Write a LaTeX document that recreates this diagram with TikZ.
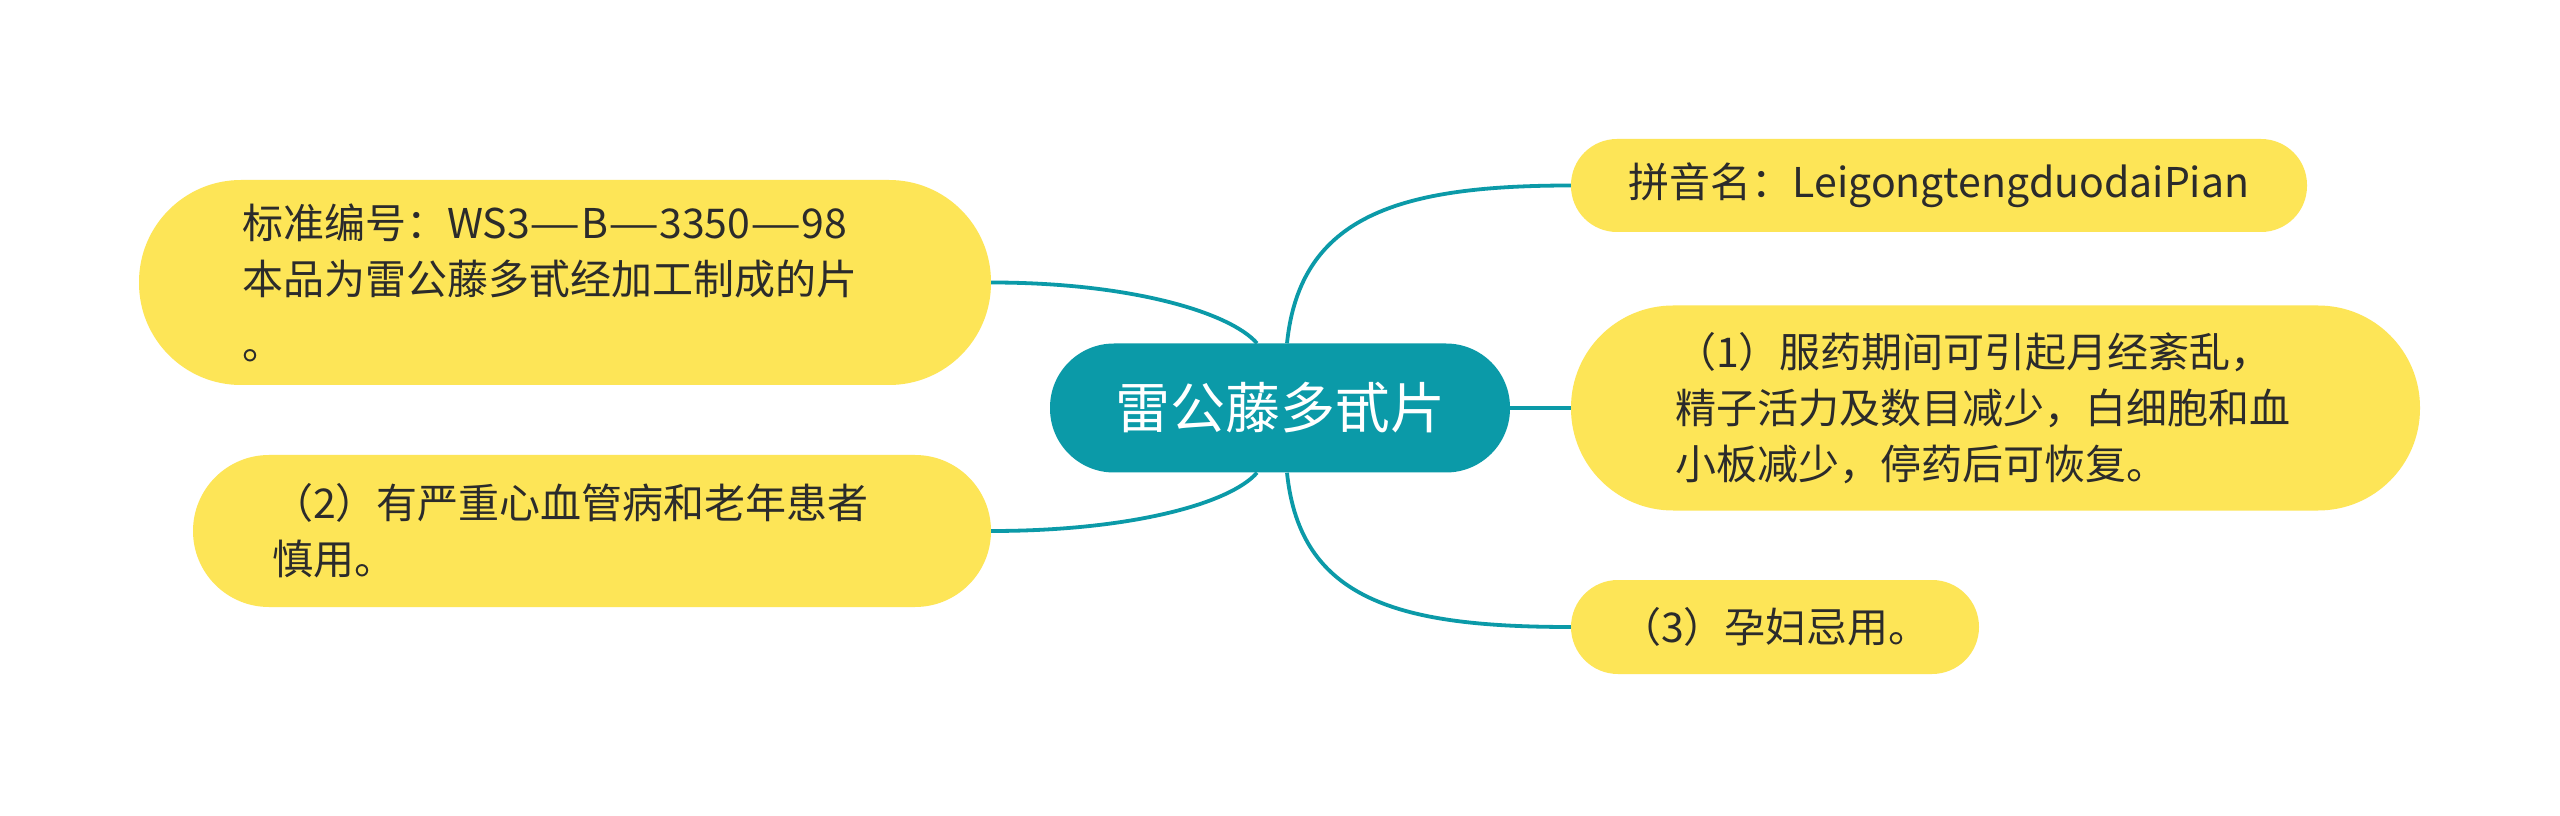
\documentclass[tikz,border=0pt]{standalone}
\usepackage{fontspec}
\setmainfont{Noto Sans CJK SC}
\usepackage{graphicx}
\newcommand{\longdash}{\scalebox{1.4}[1]{—}}
\usepackage{xcolor}
\usetikzlibrary{positioning}
\definecolor{topicteal}{HTML}{0B9AA8}
\definecolor{leafyellow}{HTML}{FDE557}
\definecolor{leafink}{HTML}{2B2B2B}

\begin{document}
\begin{tikzpicture}[x=1pt, y=1pt,
  topic/.style={fill=topicteal, text=white, rounded corners=64pt, minimum width=460pt, minimum height=129pt, inner sep=0pt, font=\fontsize{55}{60}\selectfont},
  leaf/.style={fill=leafyellow, text=leafink, align=left, inner sep=0pt, font=\fontsize{41}{56}\selectfont},
  link/.style={draw=topicteal, line width=3.8pt}
]
\useasboundingbox[fill=white] (0,0) rectangle (2560,815);

\node[topic] (c) at (1280,407) {雷公藤多甙片};

\node[leaf, minimum width=852pt, minimum height=205pt, rounded corners=102pt, text width=646pt] (tl) at (565,532.5)
  {标准编号：WS3\longdash B\longdash 3350\longdash 98\\本品为雷公藤多甙经加工制成的片\\[9pt]。};
\node[leaf, minimum width=798pt, minimum height=152pt, rounded corners=76pt, text width=640pt] (bl) at (592,284)
  {（2）有严重心血管病和老年患者\\慎用。};
\node[leaf, minimum width=736pt, minimum height=93pt, rounded corners=46pt] (tr) at (1939,629.5)
  {拼音名：LeigongtengduodaiPian};
\node[leaf, minimum width=849pt, minimum height=205pt, rounded corners=102pt, text width=641pt] (mr) at (1995.5,407)
  {（1）服药期间可引起月经紊乱，\\精子活力及数目减少，白细胞和血\\小板减少，停药后可恢复。};
\node[leaf, minimum width=408pt, minimum height=94pt, rounded corners=47pt] (br) at (1775,188)
  {（3）孕妇忌用。};

\draw[link] ([xshift=7pt]c.north) .. controls +(13,128) and +(-171,0) .. (tr.west);
\draw[link] (c.east) -- (mr.west);
\draw[link] ([xshift=7pt]c.south) .. controls +(13,-128) and +(-171,0) .. (br.west);
\draw[link] (tl.east) .. controls +(139,0) and +(-27,31) .. ([xshift=-23pt]c.north);
\draw[link] (bl.east) .. controls +(139,0) and +(-27,-31) .. ([xshift=-23pt]c.south);
\end{tikzpicture}
\end{document}
